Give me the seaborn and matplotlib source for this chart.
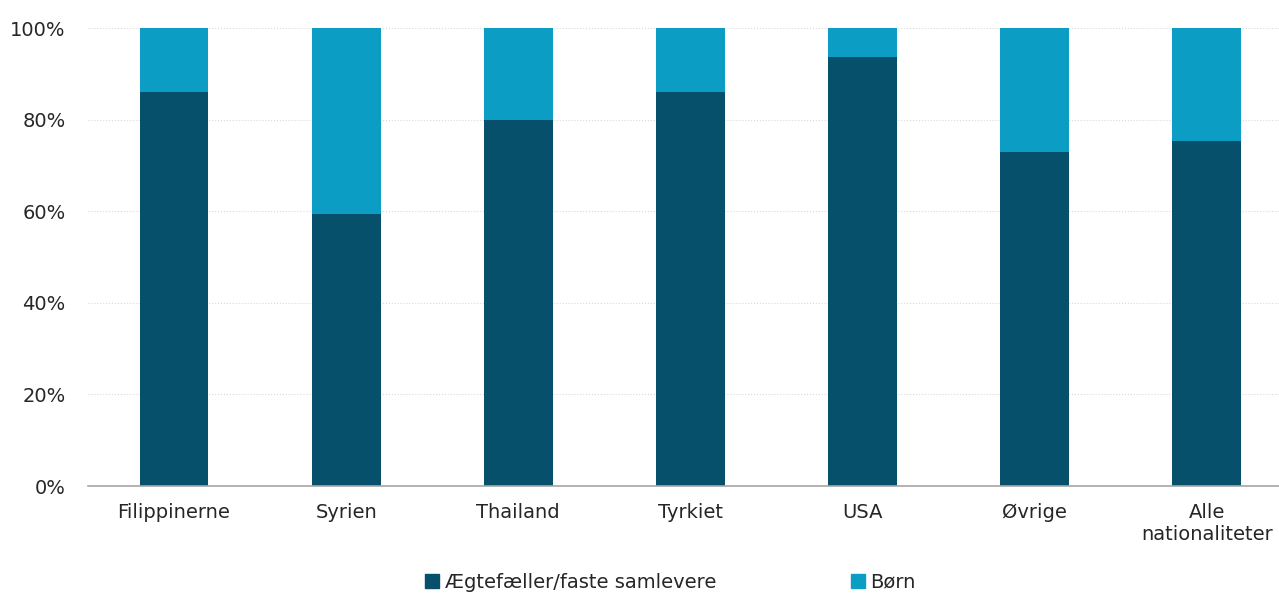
import pandas as pd
import seaborn as sns
import matplotlib.pyplot as plt
from matplotlib.patches import Patch

categories = ['Filippinerne', 'Syrien', 'Thailand', 'Tyrkiet', 'USA', 'Øvrige', 'Alle\nnationaliteter']
aegtefaeller = [86.0, 59.4, 79.9, 86.0, 93.7, 72.9, 75.4]
boern = [100 - v for v in aegtefaeller]
total = [a + b for a, b in zip(aegtefaeller, boern)]

dark = '#06506C'
light = '#0C9DC5'

sns.set_theme(style='white')
plt.rcParams['font.family'] = ['DejaVu Sans']

df = pd.DataFrame({'Nationalitet': categories, 'Ægtefæller': aegtefaeller, 'Total': total})

fig = plt.figure(figsize=(12.79, 5.93), dpi=100)
ax = fig.add_axes([88 / 1279, (593 - 486) / 593, (1279 - 88) / 1279, (486 - 28) / 593])

# light bar = full stack, dark bar drawn over it
sns.barplot(data=df, x='Nationalitet', y='Total', color=light, width=0.4, ax=ax,
            saturation=1, edgecolor='none')
sns.barplot(data=df, x='Nationalitet', y='Ægtefæller', color=dark, width=0.4, ax=ax,
            saturation=1, edgecolor='none')

ax.set_ylim(0, 100)
ax.set_xlim(-0.5, 6.42)
ax.set_yticks([0, 20, 40, 60, 80, 100])
ax.set_yticklabels([f'{t}%' for t in [0, 20, 40, 60, 80, 100]], fontsize=14)
ax.tick_params(axis='x', labelsize=14, pad=12, length=0)
ax.tick_params(axis='y', pad=16, length=0)
ax.set_xlabel('')
ax.set_ylabel('')
ax.yaxis.grid(True, color='#D9D9D9', linestyle=':', linewidth=0.8)
ax.set_axisbelow(True)
for s in ['top', 'right', 'left']:
    ax.spines[s].set_visible(False)
ax.spines['bottom'].set_color('#A6A6A6')
ax.spines['bottom'].set_linewidth(1.2)

handles = [Patch(color=dark, label='Ægtefæller/faste samlevere'), Patch(color=light, label='Børn')]
fig.legend(handles=handles, loc='lower center', bbox_to_anchor=(0.5243, -0.027), ncol=2, frameon=False,
           fontsize=14, handlelength=0.7, handleheight=0.7, handletextpad=0.3, columnspacing=6.93)

fig.savefig('out.png', dpi=100)
